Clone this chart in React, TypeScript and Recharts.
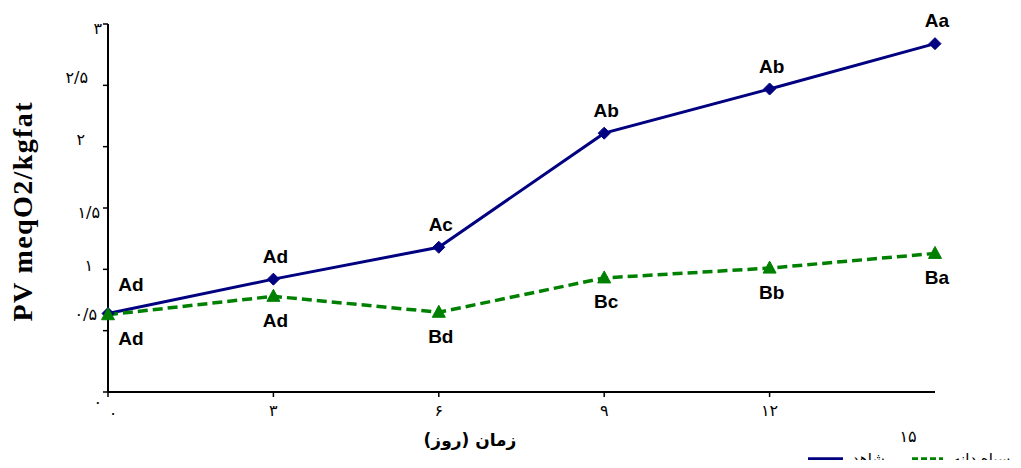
import React from 'react';
import { LineChart, Line, XAxis, YAxis, LabelList } from 'recharts';

const days = [0, 3, 6, 9, 12, 15];
const controlValues = [0.64, 0.92, 1.18, 2.11, 2.47, 2.84];
const nigellaValues = [0.63, 0.78, 0.65, 0.93, 1.01, 1.13];
const controlLetters = ['Ad', 'Ad', 'Ac', 'Ab', 'Ab', 'Aa'];
const nigellaLetters = ['Ad', 'Ad', 'Bd', 'Bc', 'Bb', 'Ba'];
const yTicks = [0, 0.5, 1, 1.5, 2, 2.5, 3];
const yTickLabels: Record<string, string> = {
  '0': '۰', '0.5': '۰/۵', '1': '۱', '1.5': '۱/۵', '2': '۲', '2.5': '۲/۵', '3': '۳',
};
const xTickLabels: Record<string, string> = {
  '0': '۰', '3': '۳', '6': '۶', '9': '۹', '12': '۱۲', '15': '۱۵',
};
const seriesNames = ['شاهد', 'سیاه دانه'];
const xTitle = 'زمان (روز)';
const yTitle = 'PV  meqO2/kgfat';

const data = days.map((d, i) => ({
  day: d,
  control: controlValues[i],
  nigella: nigellaValues[i],
  cl: controlLetters[i],
  nl: nigellaLetters[i],
}));

const BLUE = '#000080';
const GREEN = '#008000';
const LABEL_FONT = 'Liberation Sans, Arial, sans-serif';
const FA_FONT = 'DejaVu Sans, sans-serif';

// odd offsets of the tick labels in the reference
const yTickShift: Record<string, [number, number]> = {
  '0': [1, 10], '0.5': [-4, -16], '1': [-8, -4], '1.5': [-1, 4], '2': [-16, -7], '2.5': [-13, -8], '3': [1, 4],
};

const YTick = (props: any) => {
  const { x, y, payload } = props;
  const key = String(payload.value);
  const [dx, dy] = yTickShift[key] || [0, 0];
  return (
    <text x={x + dx} y={y + dy} textAnchor="end" dominantBaseline="central" fontSize={16} fontFamily={FA_FONT} fill="#000">
      {yTickLabels[key]}
    </text>
  );
};

const XTick = (props: any) => {
  const { x, y, payload } = props;
  const key = String(payload.value);
  const axisY = y - 7;
  let dx = 0;
  let dy = 11;
  if (key === '0') { dx = 5; dy = 14; }
  const isLast = key === '15';
  if (isLast) { dx = -27; dy = 37; }
  return (
    <g>
      {!isLast && <line x1={x} y1={axisY} x2={x} y2={axisY + 5} stroke="#000" strokeWidth={1.5} />}
      <text x={x + dx} y={y + dy} textAnchor="middle" dominantBaseline="central" fontSize={16} fontFamily={FA_FONT} fill="#000">
        {xTickLabels[key]}
      </text>
    </g>
  );
};

const Diamond = (props: any) => {
  const { cx, cy } = props;
  if (cx == null || cy == null) return null;
  const r = 6;
  return <polygon points={`${cx},${cy - r} ${cx + r},${cy} ${cx},${cy + r} ${cx - r},${cy}`} fill={BLUE} stroke={BLUE} />;
};

const Triangle = (props: any) => {
  const { cx, cy } = props;
  if (cx == null || cy == null) return null;
  return <polygon points={`${cx},${cy - 7} ${cx + 6.5},${cy + 5} ${cx - 6.5},${cy + 5}`} fill={GREEN} stroke={GREEN} />;
};

const makeLetterLabel = (above: boolean) => (props: any) => {
  const { x, y, value, index } = props;
  const dx = index === 0 ? 23 : 2;
  const dy = above ? (index === 0 ? -29 : -23) : 24;
  return (
    <text x={x + dx} y={y + dy} textAnchor="middle" dominantBaseline="central" fontSize={19} fontWeight="bold" fontFamily={LABEL_FONT} fill="#000">
      {value}
    </text>
  );
};

export default function App() {
  return (
    <div style={{ margin: -8, width: 1021, height: 468, position: 'relative', background: '#fff' }}>
      <LineChart width={1021} height={468} data={data} margin={{ top: 24, right: 86, bottom: 46, left: 48 }}>
        <XAxis
          dataKey="day"
          type="number"
          domain={[0, 15]}
          ticks={days}
          height={30}
          axisLine={{ stroke: '#000', strokeWidth: 2 }}
          tickLine={false}
          tickSize={5}
          tickMargin={2}
          tick={<XTick />}
        />
        <YAxis
          type="number"
          domain={[0, 3]}
          ticks={yTicks}
          width={60}
          axisLine={{ stroke: '#000', strokeWidth: 2 }}
          tickLine={{ stroke: '#000', strokeWidth: 1.5 }}
          tickSize={5}
          tick={<YTick />}
        />
        <Line
          dataKey="control"
          stroke={BLUE}
          strokeWidth={3}
          dot={<Diamond />}
          activeDot={false}
          isAnimationActive={false}
        >
          <LabelList dataKey="cl" content={makeLetterLabel(true)} />
        </Line>
        <Line
          dataKey="nigella"
          stroke={GREEN}
          strokeWidth={3.5}
          strokeDasharray="10 5"
          dot={<Triangle />}
          activeDot={false}
          isAnimationActive={false}
        >
          <LabelList dataKey="nl" content={makeLetterLabel(false)} />
        </Line>
        <text
          x={32}
          y={212}
          transform="rotate(-90 32 212)"
          textAnchor="middle"
          fontSize={28}
          fontWeight="bold"
          fontFamily="Liberation Serif, Times New Roman, serif"
          fill="#000"
          textLength={219}
          lengthAdjust="spacing"
        >
          {yTitle}
        </text>
        <text x={470} y={440} textAnchor="middle" dominantBaseline="central" fontSize={17} fontWeight="bold" fontFamily={FA_FONT} fill="#000">
          {xTitle}
        </text>
        <g>
          <line x1={808} y1={459} x2={843} y2={459} stroke={BLUE} strokeWidth={3.5} />
          <text x={852} y={464} textAnchor="start" fontSize={15} fontFamily={FA_FONT} fill="#000">
            {seriesNames[0]}
          </text>
          <line x1={912} y1={459} x2={943} y2={459} stroke={GREEN} strokeWidth={3.5} strokeDasharray="6 3" />
          <text x={953} y={464} textAnchor="start" fontSize={15} fontFamily={FA_FONT} fill="#000">
            {seriesNames[1]}
          </text>
        </g>
      </LineChart>
    </div>
  );
}
